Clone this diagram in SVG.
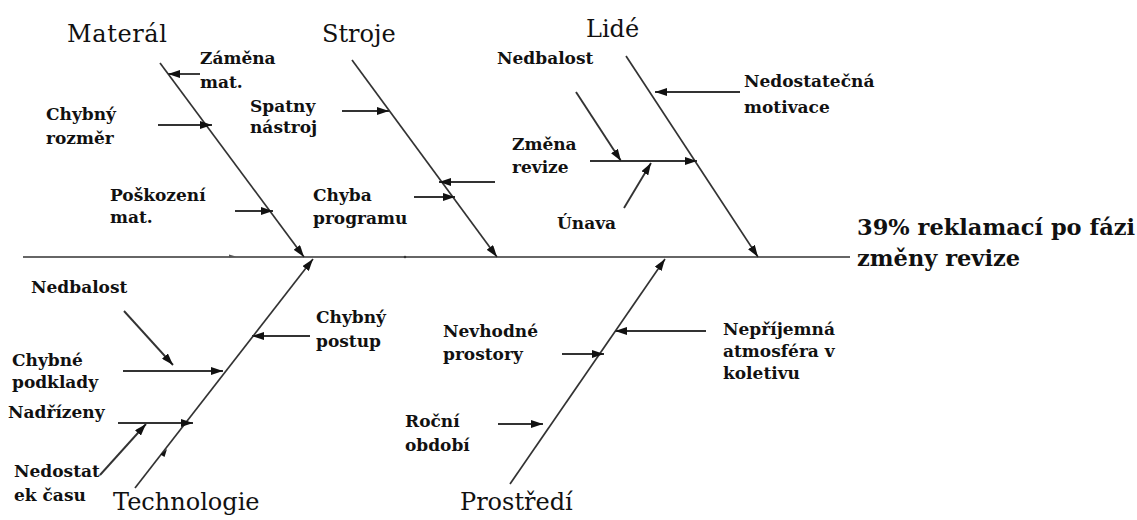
<svg xmlns="http://www.w3.org/2000/svg" width="1137" height="520" viewBox="0 0 1137 520">
  <defs>
    <marker id="ah" viewBox="0 0 12 8" refX="12" refY="4" markerWidth="12" markerHeight="8" orient="auto" markerUnits="userSpaceOnUse">
      <path d="M0,0 L12,4 L0,8 z" fill="#111"/>
    </marker>
    <style>
      .bone { stroke: #333; stroke-width: 1.7; fill: none; }
      .sub { stroke: #333; stroke-width: 1.9; fill: none; }
      .arr { marker-end: url(#ah); }
      .cat { font-family: "DejaVu Serif", "Liberation Serif", serif; font-size: 24px; fill: #111; }
      .lbl { font-family: "DejaVu Serif", "Liberation Serif", serif; font-size: 17px; font-weight: bold; fill: #111; }
      .effect { font-family: "DejaVu Serif", "Liberation Serif", serif; font-size: 22.5px; font-weight: bold; fill: #111; }
    </style>
  </defs>
  <rect width="1137" height="520" fill="#ffffff"/>

  <!-- connectors: spine, category bones and cause arrows -->
  <g id="connectors">
    <line class="bone" x1="23" y1="257" x2="850" y2="257"/>
    <!-- small tick marks on the spine -->
    <path d="M229,254.5 L236,256.5 L229,257.5 z" fill="#555"/>
    <circle cx="405" cy="257" r="1.3" fill="#333"/>

    <!-- Materál -->
    <line class="bone arr" x1="160" y1="63" x2="304" y2="257"/>
    <line class="sub arr" x1="200" y1="74" x2="168" y2="74"/>
    <line class="sub arr" x1="158" y1="125" x2="212" y2="125"/>
    <line class="sub arr" x1="235" y1="211" x2="273" y2="211"/>

    <!-- Stroje -->
    <line class="bone arr" x1="352" y1="60" x2="497" y2="257"/>
    <line class="sub arr" x1="342" y1="111" x2="389" y2="111"/>
    <line class="sub arr" x1="495" y1="182" x2="439" y2="182"/>
    <line class="sub arr" x1="414" y1="197" x2="455" y2="197"/>

    <!-- Lidé -->
    <line class="bone arr" x1="626" y1="56" x2="758" y2="257"/>
    <line class="sub arr" x1="740" y1="92" x2="655" y2="92"/>
    <line class="sub arr" x1="590" y1="161" x2="697" y2="161"/>
    <line class="sub arr" x1="576" y1="92" x2="621" y2="161"/>
    <line class="sub arr" x1="624" y1="208" x2="651" y2="163"/>

    <!-- Technologie -->
    <line class="bone arr" x1="135" y1="488" x2="313" y2="259"/>
    <path d="M167,449 L160.5,454.5 L164.5,457 z" fill="#111"/>
    <line class="sub arr" x1="310" y1="336" x2="252" y2="336"/>
    <line class="sub arr" x1="123" y1="371" x2="223" y2="371"/>
    <line class="sub arr" x1="124" y1="311" x2="173" y2="365"/>
    <line class="sub arr" x1="118" y1="423" x2="193" y2="423"/>
    <line class="sub arr" x1="100" y1="475" x2="146" y2="424"/>

    <!-- Prostředí -->
    <line class="bone arr" x1="510" y1="484" x2="665" y2="259"/>
    <line class="sub arr" x1="706" y1="331" x2="615" y2="331"/>
    <line class="sub arr" x1="562" y1="354" x2="604" y2="354"/>
    <line class="sub arr" x1="498" y1="424" x2="543" y2="424"/>
  </g>

  <!-- category heads -->
  <g id="materal"><text class="cat" x="67" y="42" textLength="100">Materál</text></g>
  <g id="stroje"><text class="cat" x="322" y="42">Stroje</text></g>
  <g id="lide"><text class="cat" x="586" y="37">Lidé</text></g>
  <g id="technologie"><text class="cat" x="113" y="510">Technologie</text></g>
  <g id="prostredi"><text class="cat" x="460" y="510">Prostředí</text></g>

  <!-- effect -->
  <g id="effect">
    <text class="effect" x="857" y="235">39% reklamací po fázi</text>
    <text class="effect" x="857" y="266">změny revize</text>
  </g>

  <!-- causes -->
  <g id="zamena-mat"><text class="lbl" x="200" y="64">Záměna</text><text class="lbl" x="200" y="88">mat.</text></g>
  <g id="chybny-rozmer"><text class="lbl" x="46" y="120">Chybný</text><text class="lbl" x="46" y="144">rozměr</text></g>
  <g id="poskozeni-mat"><text class="lbl" x="110" y="201">Poškození</text><text class="lbl" x="110" y="223">mat.</text></g>
  <g id="spatny-nastroj"><text class="lbl" x="250" y="112">Spatny</text><text class="lbl" x="250" y="133">nástroj</text></g>
  <g id="chyba-programu"><text class="lbl" x="313" y="201">Chyba</text><text class="lbl" x="313" y="224">programu</text></g>
  <g id="nedbalost-lide"><text class="lbl" x="497" y="64">Nedbalost</text></g>
  <g id="zmena-revize"><text class="lbl" x="512" y="150">Změna</text><text class="lbl" x="512" y="173">revize</text></g>
  <g id="unava"><text class="lbl" x="557" y="229">Únava</text></g>
  <g id="nedostatecna-motivace"><text class="lbl" x="744" y="87">Nedostatečná</text><text class="lbl" x="744" y="113">motivace</text></g>
  <g id="nedbalost-tech"><text class="lbl" x="31" y="293">Nedbalost</text></g>
  <g id="chybne-podklady"><text class="lbl" x="12" y="366">Chybné</text><text class="lbl" x="12" y="388">podklady</text></g>
  <g id="nadrizeny"><text class="lbl" x="8" y="418">Nadřízeny</text></g>
  <g id="nedostatek-casu"><text class="lbl" x="14" y="477">Nedostat</text><text class="lbl" x="14" y="501">ek času</text></g>
  <g id="chybny-postup"><text class="lbl" x="316" y="323">Chybný</text><text class="lbl" x="316" y="347">postup</text></g>
  <g id="nevhodne-prostory"><text class="lbl" x="443" y="337">Nevhodné</text><text class="lbl" x="443" y="360">prostory</text></g>
  <g id="neprijemna-atmosfera"><text class="lbl" x="723" y="335">Nepříjemná</text><text class="lbl" x="723" y="357">atmosféra v</text><text class="lbl" x="723" y="379">koletivu</text></g>
  <g id="rocni-obdobi"><text class="lbl" x="405" y="427">Roční</text><text class="lbl" x="405" y="451">období</text></g>
</svg>
